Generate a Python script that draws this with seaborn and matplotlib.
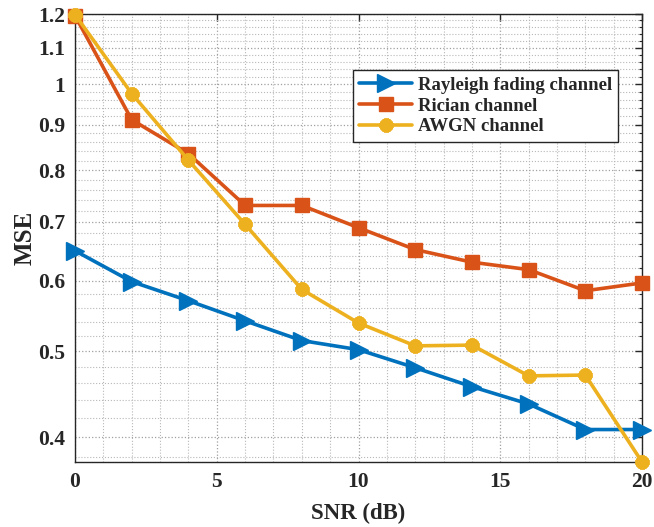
import numpy as np
import pandas as pd
import matplotlib
matplotlib.use("Agg")
import matplotlib.pyplot as plt
import seaborn as sns
from matplotlib.ticker import FixedLocator, FixedFormatter, NullFormatter

snr = [0, 2, 4, 6, 8, 10, 12, 14, 16, 18, 20]
rayleigh = [0.649, 0.599, 0.570, 0.541, 0.514, 0.502, 0.479, 0.456, 0.436, 0.408, 0.408]
rician = [1.195, 0.912, 0.835, 0.730, 0.730, 0.689, 0.651, 0.630, 0.618, 0.585, 0.597]
awgn = [1.198, 0.976, 0.821, 0.695, 0.587, 0.538, 0.507, 0.508, 0.469, 0.470, 0.375]
labels = ["Rayleigh fading channel", "Rician channel", "AWGN channel"]
ytick_vals = [0.4, 0.5, 0.6, 0.7, 0.8, 0.9, 1.0, 1.1, 1.2]
ytick_labels = ["0.4", "0.5", "0.6", "0.7", "0.8", "0.9", "1", "1.1", "1.2"]
xtick_vals = [0, 5, 10, 15, 20]

sns.set_theme(style="white")
plt.rcParams['font.family'] = ['Liberation Serif', 'DejaVu Serif']
plt.rcParams['font.weight'] = 'bold'

fig = plt.figure(figsize=(6.54, 5.27), dpi=100)
ax = fig.add_axes([0.1147, 0.1233, 0.8670, 0.8501])

styles = [
    dict(color="#0072BD", marker=">", markersize=13, markeredgewidth=1),
    dict(color="#D95319", marker="s", markersize=10, markeredgewidth=1),
    dict(color="#EDB120", marker=(8, 2, 0), markersize=10, markeredgewidth=3.5),
]
for vals, lab, st in zip([rayleigh, rician, awgn], labels, styles):
    df = pd.DataFrame({"SNR": snr, "MSE": vals})
    sns.lineplot(data=df, x="SNR", y="MSE", ax=ax, label=lab, linewidth=2.6,
                 color=st["color"], marker=st["marker"], markersize=st["markersize"],
                 markeredgewidth=st["markeredgewidth"], markeredgecolor=st["color"],
                 markerfacecolor=st["color"], clip_on=False, zorder=3)

ax.set_yscale("log")
ax.set_xlim(0, 20)
ax.set_ylim(0.375, 1.2)
ax.yaxis.set_major_locator(FixedLocator(ytick_vals))
ax.yaxis.set_major_formatter(FixedFormatter(ytick_labels))
minors = [round(v, 2) for v in np.arange(0.38, 1.2001, 0.02) if not any(abs(v - t) < 1e-6 for t in ytick_vals)]
ax.yaxis.set_minor_locator(FixedLocator(minors))
ax.yaxis.set_minor_formatter(NullFormatter())
ax.xaxis.set_major_locator(FixedLocator(xtick_vals))
ax.xaxis.set_minor_locator(FixedLocator(list(range(0, 21))))

ax.grid(True, which="major", linestyle=":", color="#a0a0a0", linewidth=0.9)
ax.grid(True, which="minor", linestyle=":", color="#b8b8b8", linewidth=0.8)
ax.set_axisbelow(True)

ax.tick_params(which="both", direction="in", top=True, right=True, colors="#262626")
ax.tick_params(which="major", length=5, width=1, labelsize=15.5, pad=7)
ax.tick_params(which="minor", length=2.5, width=0.8)
ax.tick_params(axis="x", which="minor", length=0)
for lbl in ax.get_xticklabels() + ax.get_yticklabels():
    lbl.set_fontweight("bold")
for sp in ax.spines.values():
    sp.set_color("#262626")
    sp.set_linewidth(1.0)

ax.set_xlabel("SNR (dB)", fontsize=16.5, fontweight="bold", labelpad=8)
ax.set_ylabel("MSE", fontsize=18, fontweight="bold", labelpad=1)

leg = ax.legend(loc="upper left", bbox_to_anchor=(0.49, 0.875), frameon=True, fancybox=False,
                edgecolor="#262626", prop={"weight": "bold", "size": 13.5},
                handlelength=2.8, borderpad=0.35, labelspacing=0.2, handletextpad=0.3,
                borderaxespad=0, framealpha=1)
leg.get_frame().set_linewidth(1.0)

fig.savefig("out.png", dpi=100)
